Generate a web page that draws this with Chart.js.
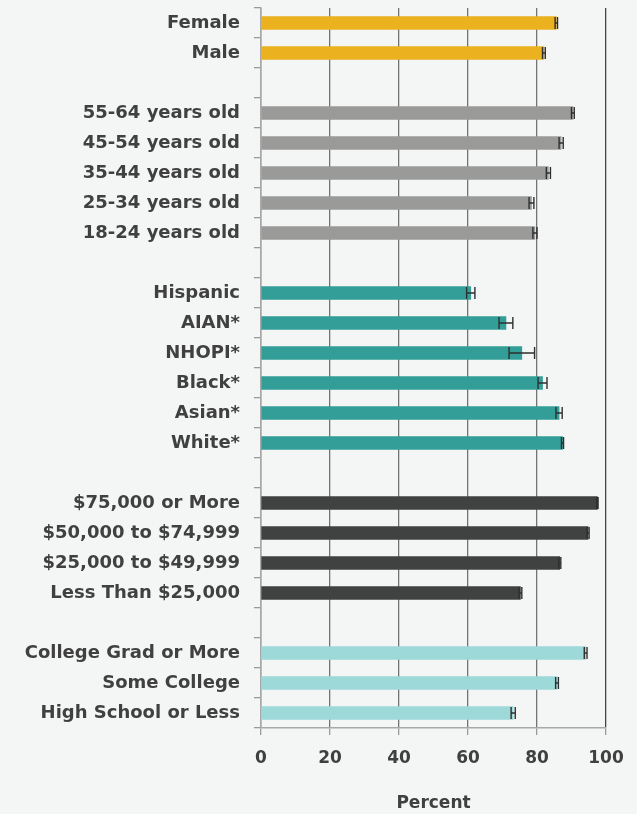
<!DOCTYPE html>
<html>
<head>
<meta charset="utf-8">
<script src="https://cdn.jsdelivr.net/npm/chart.js@4"></script>
<style>
    html, body { margin: 0; padding: 0; background: #f4f6f5; }
    #wrap { width: 637px; height: 814px; position: relative; }
</style>
</head>
<body>
<div id="wrap"><canvas id="chart"></canvas></div>
<script>
// Category labels, top to bottom (empty strings are spacer rows)
const categories = [
    'Female', 'Male', '',
    '55-64 years old', '45-54 years old', '35-44 years old', '25-34 years old', '18-24 years old', '',
    'Hispanic', 'AIAN*', 'NHOPI*', 'Black*', 'Asian*', 'White*', '',
    '$75,000 or More', '$50,000 to $74,999', '$25,000 to $49,999', 'Less Than $25,000', '',
    'College Grad or More', 'Some College', 'High School or Less'
];

// Percent values
const values = [
    85.6, 82.0, null,
    90.4, 87.0, 83.3, 78.4, 79.4, null,
    60.8, 71.0, 75.6, 81.6, 86.4, 87.4, null,
    97.5, 94.8, 86.6, 75.2, null,
    94.1, 85.8, 73.1
];

// Half width of the error bars
const errors = [
    0.35, 0.4, null,
    0.4, 0.6, 0.6, 0.7, 0.6, null,
    1.2, 2.0, 3.7, 1.3, 0.9, 0.3, null,
    0.2, 0.3, 0.3, 0.4, null,
    0.4, 0.4, 0.6
];

// Which group each row belongs to
const groups = [
    'sex', 'sex', null,
    'age', 'age', 'age', 'age', 'age', null,
    'race', 'race', 'race', 'race', 'race', 'race', null,
    'income', 'income', 'income', 'income', null,
    'edu', 'edu', 'edu'
];

const xTicks = [0, 20, 40, 60, 80, 100];

const groupColors = {
    sex: '#ebb11f',
    age: '#9a9a98',
    race: '#339e97',
    income: '#404241',
    edu: '#9dd9d9'
};

const textColor = '#404040';
const fontFamily = '"DejaVu Sans", sans-serif';

// Draws error bars on top of the bars using the chart scales
const errorBarPlugin = {
    id: 'errorBars',
    afterDatasetsDraw(chart) {
        const ctx = chart.ctx;
        const xScale = chart.scales.x;
        const yScale = chart.scales.y;
        ctx.save();
        ctx.strokeStyle = '#2f2f2f';
        ctx.lineWidth = 1.4;
        values.forEach((v, i) => {
            if (v === null) return;
            const y = yScale.getPixelForValue(i);
            const x1 = xScale.getPixelForValue(v - errors[i]);
            const x2 = xScale.getPixelForValue(v + errors[i]);
            ctx.beginPath();
            ctx.moveTo(x1, y);
            ctx.lineTo(x2, y);
            ctx.moveTo(x1, y - 6);
            ctx.lineTo(x1, y + 6);
            ctx.moveTo(x2, y - 6);
            ctx.lineTo(x2, y + 6);
            ctx.stroke();
        });
        ctx.restore();
    }
};

function initChart() {
    const ctx = document.getElementById('chart').getContext('2d');

    window.barChart = new Chart(ctx, {
        type: 'bar',
        data: {
            labels: categories,
            datasets: [{
                data: values,
                backgroundColor: groups.map(g => g ? groupColors[g] : 'transparent'),
                barThickness: 13
            }]
        },
        options: {
            indexAxis: 'y',
            responsive: true,
            maintainAspectRatio: false,
            animation: false,
            layout: {
                padding: { top: 8, right: 31, bottom: 0, left: 0 }
            },
            plugins: {
                legend: { display: false },
                tooltip: { enabled: false }
            },
            scales: {
                x: {
                    min: 0,
                    max: 100,
                    afterBuildTicks: scale => {
                        scale.ticks = xTicks.map(v => ({ value: v }));
                    },
                    afterFit: scale => { scale.height = 86; },
                    grid: {
                        color: c => c.tick && c.tick.value === 100 ? '#444444' : '#737373',
                        lineWidth: 1.3,
                        tickLength: 7,
                        tickColor: '#9a9a9a'
                    },
                    border: { color: '#a8a8a8', width: 1.5 },
                    ticks: {
                        color: textColor,
                        padding: 13,
                        font: { family: fontFamily, size: 17, weight: 'bold' }
                    },
                    title: {
                        display: true,
                        text: 'Percent',
                        color: textColor,
                        padding: { top: 0, bottom: 0 },
                        font: { family: fontFamily, size: 17, weight: 'bold' }
                    }
                },
                y: {
                    afterFit: scale => {
                        // fixed label column, no extra label padding on top/bottom
                        scale.width = 261;
                        scale.paddingTop = 0;
                        scale.paddingBottom = 0;
                    },
                    grid: {
                        drawOnChartArea: false,
                        tickLength: 7,
                        tickColor: '#9a9a9a',
                        lineWidth: 1.3
                    },
                    border: { color: '#a8a8a8', width: 1.5 },
                    ticks: {
                        color: textColor,
                        padding: 14,
                        autoSkip: false,
                        font: { family: fontFamily, size: 18, weight: 'bold' }
                    }
                }
            }
        },
        plugins: [errorBarPlugin]
    });
}

document.addEventListener('DOMContentLoaded', initChart);
</script>
</body>
</html>
